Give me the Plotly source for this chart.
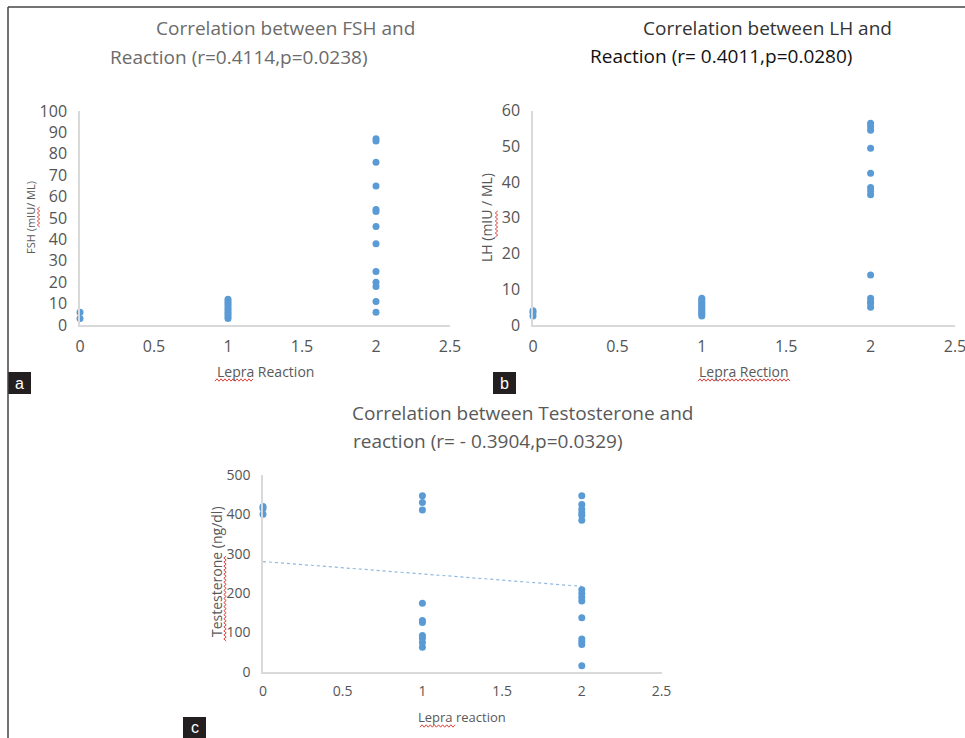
import plotly.graph_objects as go

# ---------------- data ----------------
reaction_ticks = [0, 0.5, 1, 1.5, 2, 2.5]
reaction_tick_labels = ["0", "0.5", "1", "1.5", "2", "2.5"]

fsh_reaction = [0, 0,
                1, 1, 1, 1, 1, 1, 1, 1, 1, 1,
                2, 2, 2, 2, 2, 2, 2, 2, 2, 2, 2, 2, 2]
fsh_values = [6, 3,
              12, 11, 10, 9, 8, 7, 6, 5, 4, 3,
              87, 86, 76, 65, 54, 53, 46, 38, 25, 20, 18, 11, 6]
fsh_ticks = [0, 10, 20, 30, 40, 50, 60, 70, 80, 90, 100]

lh_reaction = [0, 0, 0,
               1, 1, 1, 1, 1, 1, 1, 1, 1, 1, 1,
               2, 2, 2, 2, 2, 2, 2, 2, 2, 2, 2, 2, 2]
lh_values = [4, 3.5, 2.5,
             7.5, 7, 6.5, 6, 5.5, 5, 4.5, 4, 3.5, 3, 2.5,
             56.5, 55.5, 54.5, 49.5, 42.5, 38.5, 37.5, 36.5, 14, 7.5, 6.5, 6, 5]
lh_ticks = [0, 10, 20, 30, 40, 50, 60]

testo_reaction = [0, 0, 0,
                  1, 1, 1, 1, 1, 1, 1, 1, 1, 1,
                  2, 2, 2, 2, 2, 2, 2, 2, 2, 2, 2, 2, 2, 2, 2]
testo_values = [420, 415, 400,
                447, 430, 411, 174, 130, 125, 92, 85, 74, 62,
                447, 425, 413, 404, 398, 385, 208, 199, 189, 180, 137, 83, 76, 69, 15]
testo_ticks = [0, 100, 200, 300, 400, 500]
trend_reaction = [0, 2]
trend_values = [280, 217]

# ---------------- layout helpers ----------------
W, H = 965, 738
def px(x):
    return x / W
def py(y):
    return 1 - y / H

BLUE = "#5B9BD5"
GRAY = "#595959"
TICK = "#555555"
AXIS = "#D9D9D9"
FONT = "Open Sans"

fig = go.Figure()

marker = dict(color=BLUE, size=7)
fig.add_trace(go.Scatter(x=fsh_reaction, y=fsh_values, mode="markers", marker=marker,
                         xaxis="x", yaxis="y", cliponaxis=False, showlegend=False))
fig.add_trace(go.Scatter(x=lh_reaction, y=lh_values, mode="markers", marker=marker,
                         xaxis="x2", yaxis="y2", cliponaxis=False, showlegend=False))
fig.add_trace(go.Scatter(x=trend_reaction, y=trend_values, mode="lines",
                         line=dict(color="#8FB8E0", width=1.2, dash="dot"),
                         xaxis="x3", yaxis="y3", cliponaxis=False, showlegend=False))
fig.add_trace(go.Scatter(x=testo_reaction, y=testo_values, mode="markers", marker=marker,
                         xaxis="x3", yaxis="y3", cliponaxis=False, showlegend=False))

def xaxis(dom, size, anchor):
    return dict(domain=dom, range=[0, 2.5], tickvals=reaction_ticks, ticktext=reaction_tick_labels,
                showline=True, linecolor=AXIS, linewidth=1.5, showgrid=False, zeroline=False,
                ticks="", tickfont=dict(family=FONT, size=size, color=TICK),
                ticklabelstandoff=6, ticklabeloverflow="allow",
                anchor=anchor, fixedrange=True, automargin=False)

def yaxis(dom, rng, tv, size, anchor):
    return dict(domain=dom, range=rng, tickvals=tv,
                showline=True, linecolor=AXIS, linewidth=1.5, showgrid=False, zeroline=False,
                ticks="", tickfont=dict(family=FONT, size=size, color=TICK),
                ticklabelstandoff=8, anchor=anchor, fixedrange=True, automargin=False)

fig.update_layout(
    width=W, height=H, autosize=False,
    margin=dict(l=0, r=0, t=0, b=0, pad=0),
    paper_bgcolor="white", plot_bgcolor="white",
    xaxis=xaxis([px(80), px(450)], 16, "y"),
    yaxis=yaxis([py(325), py(111)], [0, 100], fsh_ticks, 16, "x"),
    xaxis2=xaxis([px(533), px(955)], 16, "y2"),
    yaxis2=yaxis([py(325), py(110.7)], [0, 60], lh_ticks, 16, "x2"),
    xaxis3=xaxis([px(263), px(661.5)], 14, "y3"),
    yaxis3=yaxis([py(671.7), py(475)], [0, 500], testo_ticks, 14, "x3"),
)

ann = []
def text(x, y, t, size, color=GRAY, angle=0, family=FONT):
    ann.append(dict(x=px(x), y=py(y), xref="paper", yref="paper", text=t, showarrow=False,
                    xanchor="center", yanchor="middle", textangle=angle,
                    font=dict(family=family, size=size, color=color)))

# titles
text(285.5, 28, "Correlation between FSH and", 19, "#6b6b6b")
text(239, 57, "Reaction (r=0.4114,p=0.0238)", 19, "#6b6b6b")
text(767, 28, "Correlation between LH and", 19, "#333333")
text(720.5, 56, "Reaction (r= 0.4011,p=0.0280)", 19, "#111111")
text(522.5, 413, "Correlation between Testosterone and", 19, GRAY)
text(487.5, 441, "reaction (r= - 0.3904,p=0.0329)", 19, GRAY)

# axis titles
text(265, 371, "Lepra Reaction", 14)
text(744, 371, "Lepra Rection", 14)
text(462, 717, "Lepra reaction", 13)
text(31, 218, "FSH (mIU/ ML)", 11, angle=-90)
text(487, 218, "LH (mIU / ML)", 14, angle=-90)
text(216, 572, "Testesterone (ng/dl)", 14, angle=-90)

shapes = []

# spell-check squiggles under some axis-title words
def squiggle(x0, x1, y, vertical=False):
    n = int(abs(x1 - x0) / 2)
    pts = []
    for i in range(n + 1):
        t = x0 + (x1 - x0) * i / n
        off = 1.2 if i % 2 == 0 else -1.2
        if vertical:
            pts.append((y + off, t))
        else:
            pts.append((t, y + off))
    path = "M " + " L ".join(f"{px(a):.5f},{py(b):.5f}" for a, b in pts)
    shapes.append(dict(type="path", xref="paper", yref="paper", path=path,
                       line=dict(color="#E0403A", width=1)))

squiggle(215, 253, 380)
squiggle(698, 790, 380)
squiggle(420, 455, 726)
squiggle(207, 227, 38.5, vertical=True)
squiggle(211, 237, 496.5, vertical=True)
squiggle(556, 641, 225, vertical=True)

# panel letters
for (x0, y0, x1, y1, letter, ly) in [(8, 372, 31, 394, "a", 383), (493, 372, 516, 394, "b", 383),
                                     (183, 717, 206, 740, "c", 727)]:
    shapes.append(dict(type="rect", xref="paper", yref="paper", x0=px(x0), x1=px(x1), y0=py(y1), y1=py(y0),
                       fillcolor="#231F20", line=dict(width=0), layer="above"))
    text((x0 + x1) / 2, ly, letter, 16, "white", family="Liberation Sans")

# frame
shapes.append(dict(type="line", xref="paper", yref="paper", x0=px(8), x1=1, y0=py(7), y1=py(7),
                   line=dict(color="#444444", width=1.5)))
shapes.append(dict(type="line", xref="paper", yref="paper", x0=px(8), x1=px(8), y0=py(7), y1=0,
                   line=dict(color="#444444", width=1.5)))

fig.update_layout(annotations=ann, shapes=shapes)
fig.write_html("out.html", config={"displayModeBar": False},
               post_script="document.body.style.margin='0';document.body.style.overflow='hidden';")
